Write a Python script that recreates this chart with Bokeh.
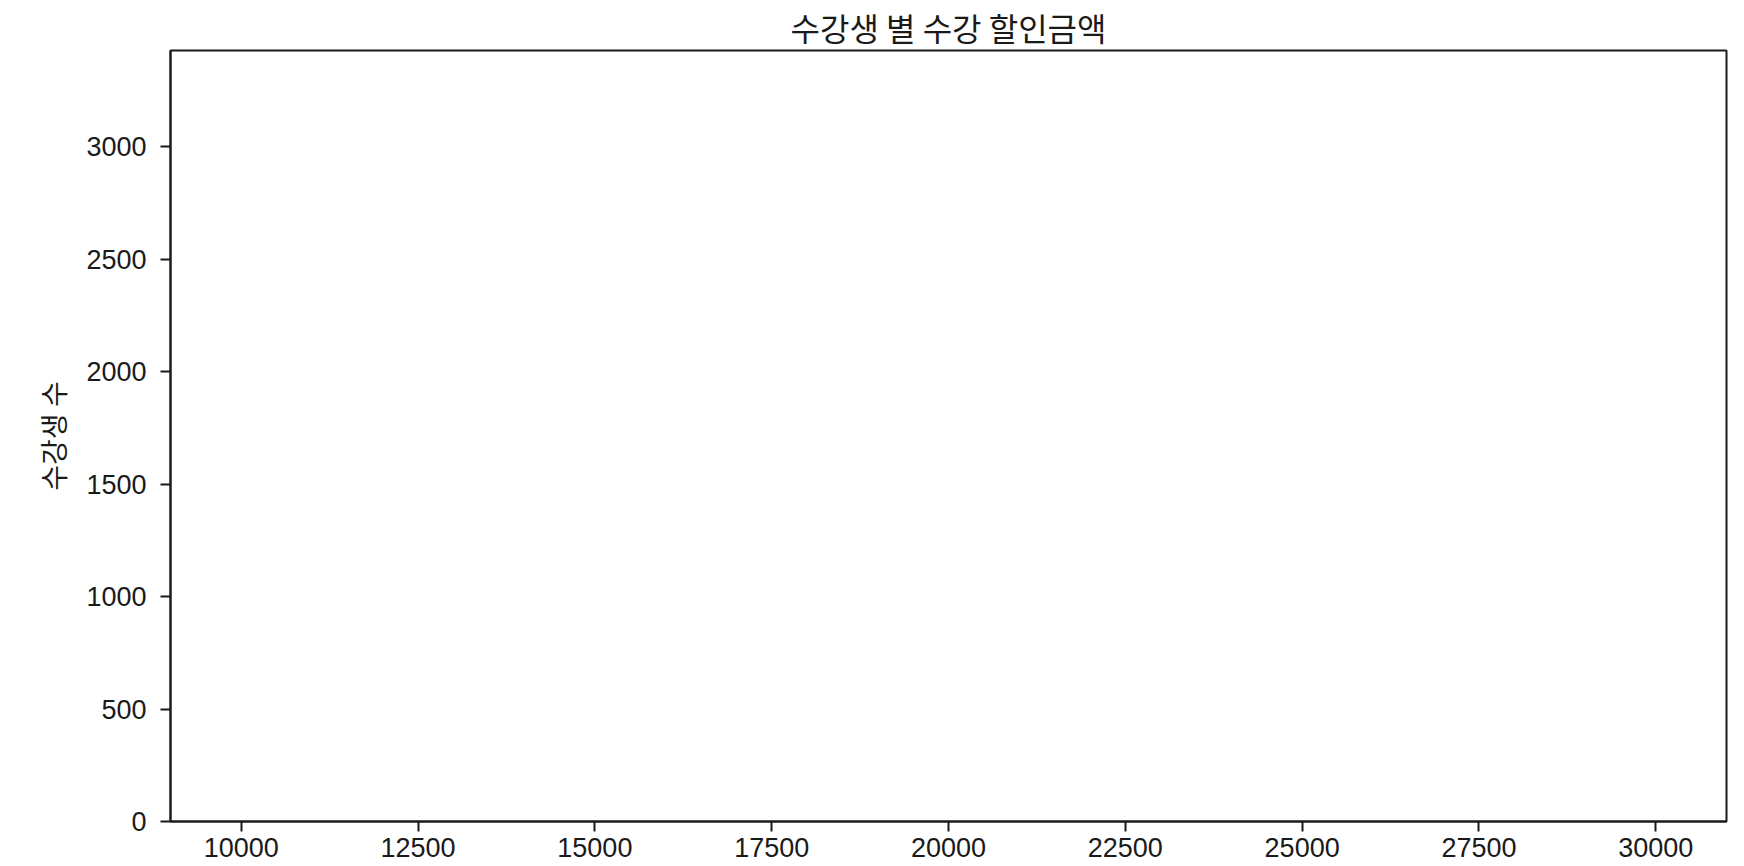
from bokeh.plotting import figure
from bokeh.models import FixedTicker, Range1d
from bokeh.embed import file_html
from bokeh.resources import INLINE

title_text = "수강생 별 수강 할인금액"
y_label = "수강생 수"
x_ticks = [10000, 12500, 15000, 17500, 20000, 22500, 25000, 27500, 30000]
y_ticks = [0, 500, 1000, 1500, 2000, 2500, 3000]
x_limits = [9000, 31000]
y_limits = [0, 3427]

FONT = "Noto Sans CJK KR"
TICK_FONT = "Liberation Sans"
INK = "#1a1a1a"

p = figure(width=1744, height=866, output_backend="svg", toolbar_location=None,
           x_range=Range1d(*x_limits), y_range=Range1d(*y_limits),
           min_border_left=170, min_border_right=18, min_border_top=44, min_border_bottom=45)

p.title.text = title_text
p.title.align = "center"
p.title.text_font = FONT
p.title.text_font_size = "32px"
p.title.text_font_style = "normal"
p.title.text_color = INK
p.title.standoff = 2

p.xgrid.visible = False
p.ygrid.visible = False
p.outline_line_color = INK
p.outline_line_width = 2
p.outline_line_alpha = 1
p.background_fill_color = "white"
p.border_fill_color = "white"

for ax in (p.xaxis[0], p.yaxis[0]):
    ax.axis_line_color = INK
    ax.axis_line_width = 2
    ax.major_tick_line_color = INK
    ax.major_tick_line_width = 2
    ax.major_tick_out = 10
    ax.major_tick_in = 0
    ax.minor_tick_line_color = None
    ax.major_label_text_font = TICK_FONT
    ax.major_label_text_font_size = "27px"
    ax.major_label_text_color = INK

p.xaxis.major_label_standoff = 6
p.yaxis.major_label_standoff = 14
p.xaxis.ticker = FixedTicker(ticks=x_ticks)
p.yaxis.ticker = FixedTicker(ticks=y_ticks)
p.yaxis.axis_label = y_label
p.yaxis.axis_label_text_font = FONT
p.yaxis.axis_label_text_font_size = "28px"
p.yaxis.axis_label_text_font_style = "normal"
p.yaxis.axis_label_text_color = INK
p.yaxis.axis_label_standoff = 10

open("out.html", "w").write(file_html(p, INLINE))
